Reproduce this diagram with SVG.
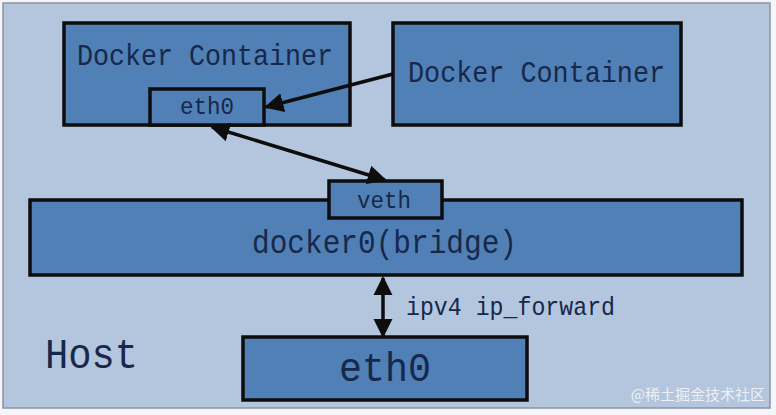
<svg xmlns="http://www.w3.org/2000/svg" width="776" height="415" viewBox="0 0 776 415">
<style>
.box{fill:#5080b6;stroke:#0d0d0d;stroke-width:3.5}
.t{font-family:"Liberation Mono","DejaVu Sans Mono",monospace;fill:#17284a}
.conn{stroke:#0d0d0d;stroke-width:3.5;fill:none}
</style>
<defs>
<marker id="ah" viewBox="0 0 10 10" refX="9" refY="5" markerWidth="5.5" markerHeight="5.5" orient="auto-start-reverse" markerUnits="strokeWidth">
<path d="M0,0 L10,5 L0,10 z" fill="#0d0d0d"/>
</marker>
</defs>
<rect x="0" y="0" width="776" height="415" fill="#f4f6f9"/>
<rect x="3" y="3" width="767" height="405" fill="#b3c6dd" stroke="#8d939c" stroke-width="1.5"/>
<g id="container1">
<rect class="box" x="64" y="23" width="286" height="102"/>
<text class="t" x="77" y="65" font-size="30" textLength="256" lengthAdjust="spacingAndGlyphs">Docker Container</text>
</g>
<g id="eth0-container">
<rect class="box" x="150" y="89" width="114" height="36"/>
<text class="t" x="180" y="114" font-size="24" textLength="54" lengthAdjust="spacingAndGlyphs">eth0</text>
</g>
<g id="container2">
<rect class="box" x="393" y="23" width="288" height="102"/>
<text class="t" x="408" y="82" font-size="30" textLength="257" lengthAdjust="spacingAndGlyphs">Docker Container</text>
</g>
<g id="bridge">
<rect class="box" x="30" y="200" width="712" height="75"/>
<text class="t" x="252" y="253" font-size="33" textLength="265" lengthAdjust="spacingAndGlyphs">docker0(bridge)</text>
</g>
<g id="veth">
<rect class="box" x="329" y="181" width="113" height="37"/>
<text class="t" x="357" y="208" font-size="24" textLength="54" lengthAdjust="spacingAndGlyphs">veth</text>
</g>
<g id="host-eth0">
<rect class="box" x="243" y="337" width="284" height="63"/>
<text class="t" x="339" y="381" font-size="40" textLength="92" lengthAdjust="spacingAndGlyphs">eth0</text>
</g>
<g id="host">
<text class="t" x="45" y="368" font-size="42" textLength="93" lengthAdjust="spacingAndGlyphs">Host</text>
</g>
<g id="connectors">
<line class="conn" x1="393" y1="74" x2="266" y2="107" marker-end="url(#ah)"/>
<line class="conn" x1="212" y1="127" x2="385" y2="180" marker-start="url(#ah)" marker-end="url(#ah)"/>
<line class="conn" x1="383" y1="278" x2="383" y2="336" marker-start="url(#ah)" marker-end="url(#ah)"/>
<text class="t" x="406" y="315" font-size="25" textLength="209" lengthAdjust="spacingAndGlyphs">ipv4 ip_forward</text>
</g>
<text x="765" y="400" text-anchor="end" font-family="'Noto Sans CJK SC',sans-serif" font-size="15" fill="#ffffff" fill-opacity="0.75">@稀土掘金技术社区</text>
</svg>
